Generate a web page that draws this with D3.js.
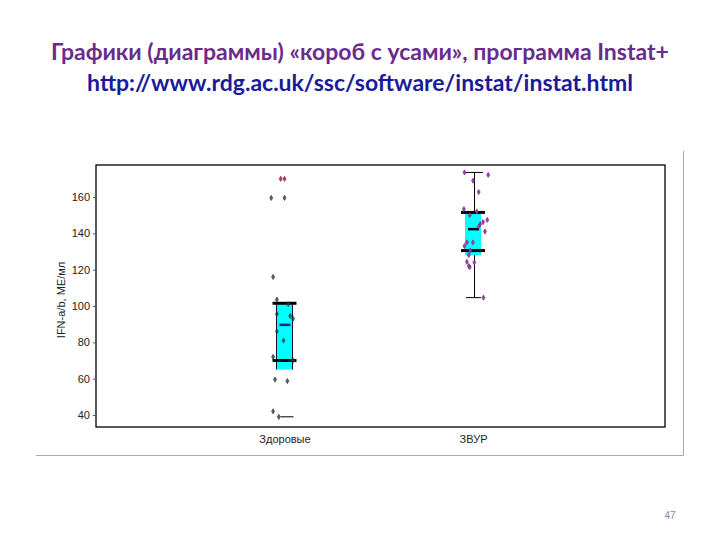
<!DOCTYPE html>
<html><head><meta charset="utf-8">
<script src="https://cdn.jsdelivr.net/npm/d3@7"></script>
<style>body{margin:0;background:#fff}</style>
</head><body>
<svg id="c" width="720" height="540"></svg>
<script>
const categories = ["Здоровые", "ЗВУР"];
const yTicks = [40, 60, 80, 100, 120, 140, 160];
// box summaries: cyan box lo/hi, quartile lines, median, whiskers
const boxLo = [65, 128];
const boxHi = [102, 151.7];
const q1 = [70, 130.5];
const q3 = [101.5, 151.5];
const median = [89.6, 142.3];
const whiskerLo = [39, 104.6];
const whiskerHi = [null, 173.5];
// points: [value, horizontal offset in category units]
const healthyVals = [170, 170, 159.5, 159.5, 116, 103.5, 101, 95.6, 94.5, 93, 86, 81, 72, 70, 59.5, 58.7, 42, 39];
const healthyJit  = [-0.02, 0.0, -0.07, 0.0, -0.06, -0.04, 0.02, -0.04, 0.03, 0.045, -0.04, -0.005, -0.06, 0.045, -0.05, 0.015, -0.06, -0.03];
const ivrVals = [173.5, 172.2, 169, 162.7, 153.3, 152, 150, 147.4, 146.2, 145, 143.7, 141, 135, 135, 133, 130.5, 128, 124.3, 124, 122, 121.4, 104.6];
const ivrJit  = [-0.045, 0.08, 0.0, 0.03, -0.048, 0.02, -0.017, 0.075, 0.053, 0.038, 0.03, 0.063, 0.0, -0.032, -0.045, -0.014, -0.022, -0.032, 0.007, -0.022, -0.017, 0.055];

const svg = d3.select("#c");
const L = 96, R = 665, T = 165, B = 427;

// titles
svg.append("text").attr("x", 360).attr("y", 60).attr("text-anchor", "middle")
  .attr("font-family", "Lato, 'Open Sans', sans-serif").attr("font-weight", "bold")
  .attr("font-size", 23).attr("fill", "#6a2c8c")
  .text("Графики (диаграммы) «короб с усами», программа Instat+");
svg.append("text").attr("x", 360).attr("y", 91).attr("text-anchor", "middle")
  .attr("font-family", "Lato, 'Open Sans', sans-serif").attr("font-weight", "bold")
  .attr("font-size", 23).attr("fill", "#1a1a9a")
  .text("http://www.rdg.ac.uk/ssc/software/instat/instat.html");

// outer gray lines
svg.append("line").attr("x1", 683.5).attr("x2", 683.5).attr("y1", 151).attr("y2", 455.5)
  .attr("stroke", "#aaa").attr("stroke-width", 1);
svg.append("line").attr("x1", 36).attr("x2", 683.5).attr("y1", 455.5).attr("y2", 455.5)
  .attr("stroke", "#aaa").attr("stroke-width", 1);

const y = d3.scaleLinear().domain([33.4, 177.6]).range([B, T]);
const x = d3.scalePoint().domain(categories).range([284.5, 473]);

// frame
svg.append("rect").attr("x", L).attr("y", T).attr("width", R - L).attr("height", B - T)
  .attr("fill", "none").attr("stroke", "#000").attr("stroke-width", 1.3);

// y axis
const yAxis = d3.axisLeft(y).tickValues(yTicks).tickSize(3).tickPadding(3);
const ga = svg.append("g").attr("transform", `translate(${L},0)`).call(yAxis);
ga.select(".domain").remove();
ga.selectAll("text").attr("font-family", "Arial, 'Liberation Sans', sans-serif")
  .attr("font-size", 11).attr("fill", "#222");
ga.selectAll("line").attr("stroke", "#555");

svg.append("text").attr("transform", `translate(65,${(T + B) / 2 + 4}) rotate(-90)`)
  .attr("text-anchor", "middle").attr("font-family", "Arial, 'Liberation Sans', sans-serif")
  .attr("font-size", 11).attr("fill", "#222").text("IFN-a/b, МЕ/мл");

// x axis labels
const xAxis = d3.axisBottom(x).tickSize(0).tickPadding(8);
const gx = svg.append("g").attr("transform", `translate(0,${B})`).call(xAxis);
gx.select(".domain").remove();
gx.selectAll("text").attr("font-family", "Arial, 'Liberation Sans', sans-serif")
  .attr("font-size", 11).attr("fill", "#222");

const step = 190;
categories.forEach((c, i) => {
  const cx = x(c);
  const bw = 16;
  // whisker
  if (whiskerHi[i] !== null) {
    svg.append("line").attr("x1", cx + 1.5).attr("x2", cx + 1.5).attr("y1", y(whiskerHi[i])).attr("y2", y(whiskerLo[i]))
      .attr("stroke", "#000").attr("stroke-width", 1);
    svg.append("line").attr("x1", cx - 8).attr("x2", cx + 10).attr("y1", y(whiskerHi[i])).attr("y2", y(whiskerHi[i]))
      .attr("stroke", "#000").attr("stroke-width", 1);
    svg.append("line").attr("x1", cx - 7).attr("x2", cx + 8).attr("y1", y(whiskerLo[i])).attr("y2", y(whiskerLo[i]))
      .attr("stroke", "#000").attr("stroke-width", 1);
  } else {
    svg.append("line").attr("x1", cx - 4).attr("x2", cx + 9).attr("y1", y(whiskerLo[i])).attr("y2", y(whiskerLo[i]))
      .attr("stroke", "#000").attr("stroke-width", 1);
  }
  // cyan box
  svg.append("rect").attr("x", cx - bw / 2).attr("y", y(boxHi[i])).attr("width", bw)
    .attr("height", y(boxLo[i]) - y(boxHi[i])).attr("fill", "#00ffff");
  if (i === 0) {
    [cx - bw / 2, cx + bw / 2].forEach(xx => svg.append("line").attr("x1", xx).attr("x2", xx)
      .attr("y1", y(boxHi[i])).attr("y2", y(boxLo[i])).attr("stroke", "#113").attr("stroke-width", 1));
  }
  // quartile lines
  [q1[i], q3[i]].forEach(v => svg.append("line").attr("x1", cx - 12).attr("x2", cx + 12)
    .attr("y1", y(v)).attr("y2", y(v)).attr("stroke", "#000").attr("stroke-width", 3));
  // median
  svg.append("line").attr("x1", cx - 5).attr("x2", cx + 6).attr("y1", y(median[i])).attr("y2", y(median[i]))
    .attr("stroke", i === 0 ? "#1a2a8a" : "#000").attr("stroke-width", 2.5);
});

const diamond = d3.symbol().type(d3.symbolDiamond).size(8);
healthyVals.forEach((v, k) => {
  const col = v >= 168 ? "#8b1a3a" : "#2a3a3a";
  svg.append("path").attr("d", diamond)
    .attr("transform", `translate(${x(categories[0]) + healthyJit[k] * step},${y(v)})`)
    .attr("fill", col).attr("stroke", col).attr("stroke-width", 0.6).attr("fill-opacity", 0.8);
});
ivrVals.forEach((v, k) => {
  svg.append("path").attr("d", diamond)
    .attr("transform", `translate(${x(categories[1]) + ivrJit[k] * step},${y(v)})`)
    .attr("fill", "#a03ca8").attr("stroke", "#7a2a8a").attr("stroke-width", 0.6);
});

// page number
svg.append("text").attr("x", 670).attr("y", 519).attr("text-anchor", "middle")
  .attr("font-family", "Arial, 'Liberation Sans', sans-serif").attr("font-size", 10)
  .attr("fill", "#888").text("47");
</script>
</body></html>
